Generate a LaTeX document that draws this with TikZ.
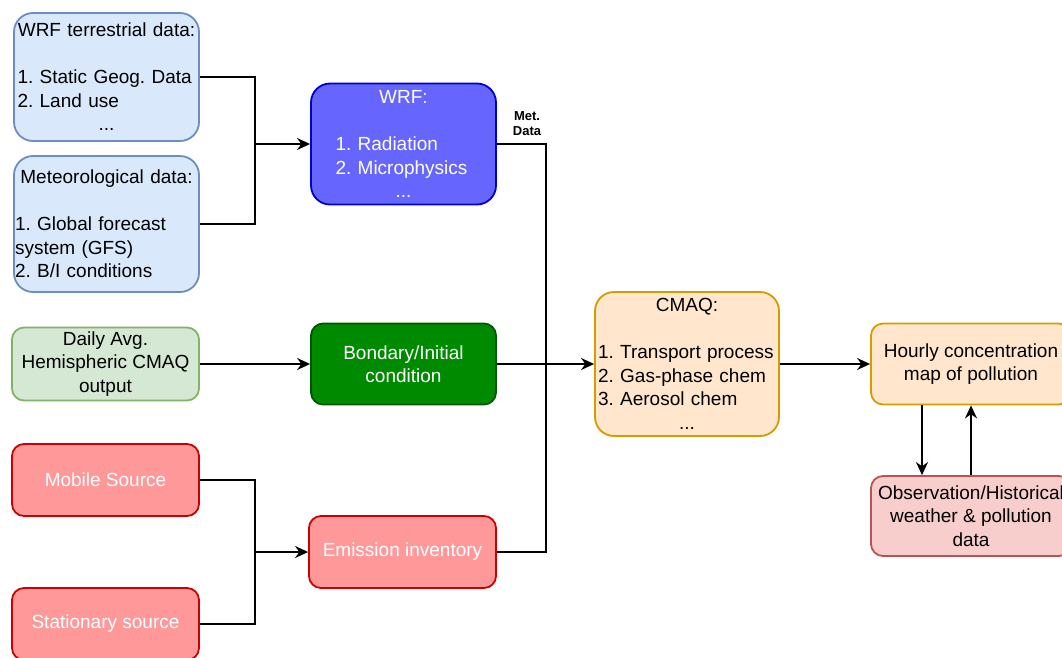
\documentclass[tikz,border=0pt]{standalone}
\usepackage{fontspec}
\setmainfont{Liberation Sans}
\usetikzlibrary{arrows.meta}
\frenchspacing

\definecolor{bluefill}{HTML}{DAE8FC}
\definecolor{blueline}{HTML}{6C8EBF}
\definecolor{wrffill}{HTML}{6666FF}
\definecolor{wrfline}{HTML}{0000CC}
\definecolor{lgreenfill}{HTML}{D5E8D4}
\definecolor{lgreenline}{HTML}{82B366}
\definecolor{greenfill}{HTML}{008A00}
\definecolor{greenline}{HTML}{005700}
\definecolor{redfill}{HTML}{FF9999}
\definecolor{redline}{HTML}{CC0000}
\definecolor{orangefill}{HTML}{FFE6CC}
\definecolor{orangeline}{HTML}{D79B00}
\definecolor{pinkfill}{HTML}{F8CECC}
\definecolor{pinkline}{HTML}{B85450}

\newcommand{\ctrline}[1]{\mbox{}\hfill#1\hfill\mbox{}}

\begin{document}
\begin{tikzpicture}[x=1pt, y=-1pt, >={Stealth[length=13pt, width=12pt]}, line width=2.4pt,
    box/.style={draw, line width=1.8pt, rounded corners=12pt, inner sep=0pt, align=center,
        font=\fontsize{19}{23.5}\selectfont},
    bigbox/.style={box, rounded corners=19pt},
    bluebox/.style={bigbox, fill=bluefill, draw=blueline, minimum width=185pt},
    redbox/.style={box, fill=redfill, draw=redline, text=white, minimum width=187pt, minimum height=72pt}]
    % 画布范围
    \useasboundingbox (0, 0) rectangle (1062, 657);
    \clip (0, 0) rectangle (1062, 657);

    % 左侧输入数据
    \node[bluebox, minimum height=128pt, text width=178pt, align=left] (terr) at (106.5, 77)
        {\ctrline{WRF terrestrial data:}\\ \mbox{}\\ 1. Static Geog. Data\\ 2. Land use\\ \ctrline{...}};
    \node[bluebox, minimum height=136pt, text width=183pt, align=left] (met) at (106.5, 224)
        {\ctrline{Meteorological data:}\\ \mbox{}\\ 1. Global forecast\\ system (GFS)\\ 2. B/I conditions};
    \node[box, fill=lgreenfill, draw=lgreenline, minimum width=187pt, minimum height=73pt] (daily) at (105.5, 364)
        {Daily Avg.\\ Hemispheric CMAQ\\ output};
    \node[redbox] (mobile) at (105.5, 480) {Mobile Source};
    \node[redbox] (stat) at (105.5, 624) {Stationary source};

    % 中间处理模块
    \node[bigbox, fill=wrffill, draw=wrfline, text=white, minimum width=185pt, minimum height=121pt,
        text width=136pt, align=left] (wrf) at (403.5, 144)
        {\ctrline{WRF:}\\ \mbox{}\\ 1. Radiation\\ 2. Microphysics\\ \ctrline{...}};
    \node[box, fill=greenfill, draw=greenline, text=white, minimum width=185pt, minimum height=81pt] (bc) at (403.5, 364)
        {Bondary/Initial\\ condition};
    \node[redbox] (emis) at (402.5, 552) {Emission inventory};

    % CMAQ 及输出
    \node[bigbox, fill=orangefill, draw=orangeline, minimum width=184pt, minimum height=144pt,
        text width=178pt, align=left] (cmaq) at (687, 364)
        {\ctrline{CMAQ:}\\ \mbox{}\\ 1. Transport process\\ 2. Gas-phase chem\\ 3. Aerosol chem\\ \ctrline{...}};
    \node[box, fill=orangefill, draw=orangeline, minimum width=200pt, minimum height=81pt] (hourly) at (971, 364)
        {Hourly concentration\\ map of pollution};
    \node[box, fill=pinkfill, draw=pinkline, minimum width=200pt, minimum height=80pt] (obs) at (971, 516)
        {Observation/Historical\\ weather \& pollution\\ data};

    % 汇合点
    \coordinate (jA) at (255, 144);
    \coordinate (jB) at (255, 552);
    \coordinate (jC) at (546, 364);

    % 连线
    \draw (terr.east) -| (jA);
    \draw (met.east) -| (jA);
    \draw[->] (jA) -- (wrf.west);
    \draw[->] (daily.east) -- (bc.west);
    \draw (mobile.east) -| (jB);
    \draw (stat.east) -| (jB);
    \draw[->] (jB) -- (emis.west);
    \draw (wrf.east) -| (jC);
    \draw (emis.east) -| (jC);
    \draw[->] (bc.east) -- (cmaq.west);
    \node[font=\fontsize{13}{15}\selectfont\bfseries, align=center] (metlbl) at (527, 124) {Met.\\ Data};
    \draw[->] (cmaq.east) -- (hourly.west);
    \draw[->] ([xshift=-49pt]hourly.south) -- ([xshift=-49pt]obs.north);
    \draw[->] (obs.north) -- (hourly.south);
\end{tikzpicture}
\end{document}
